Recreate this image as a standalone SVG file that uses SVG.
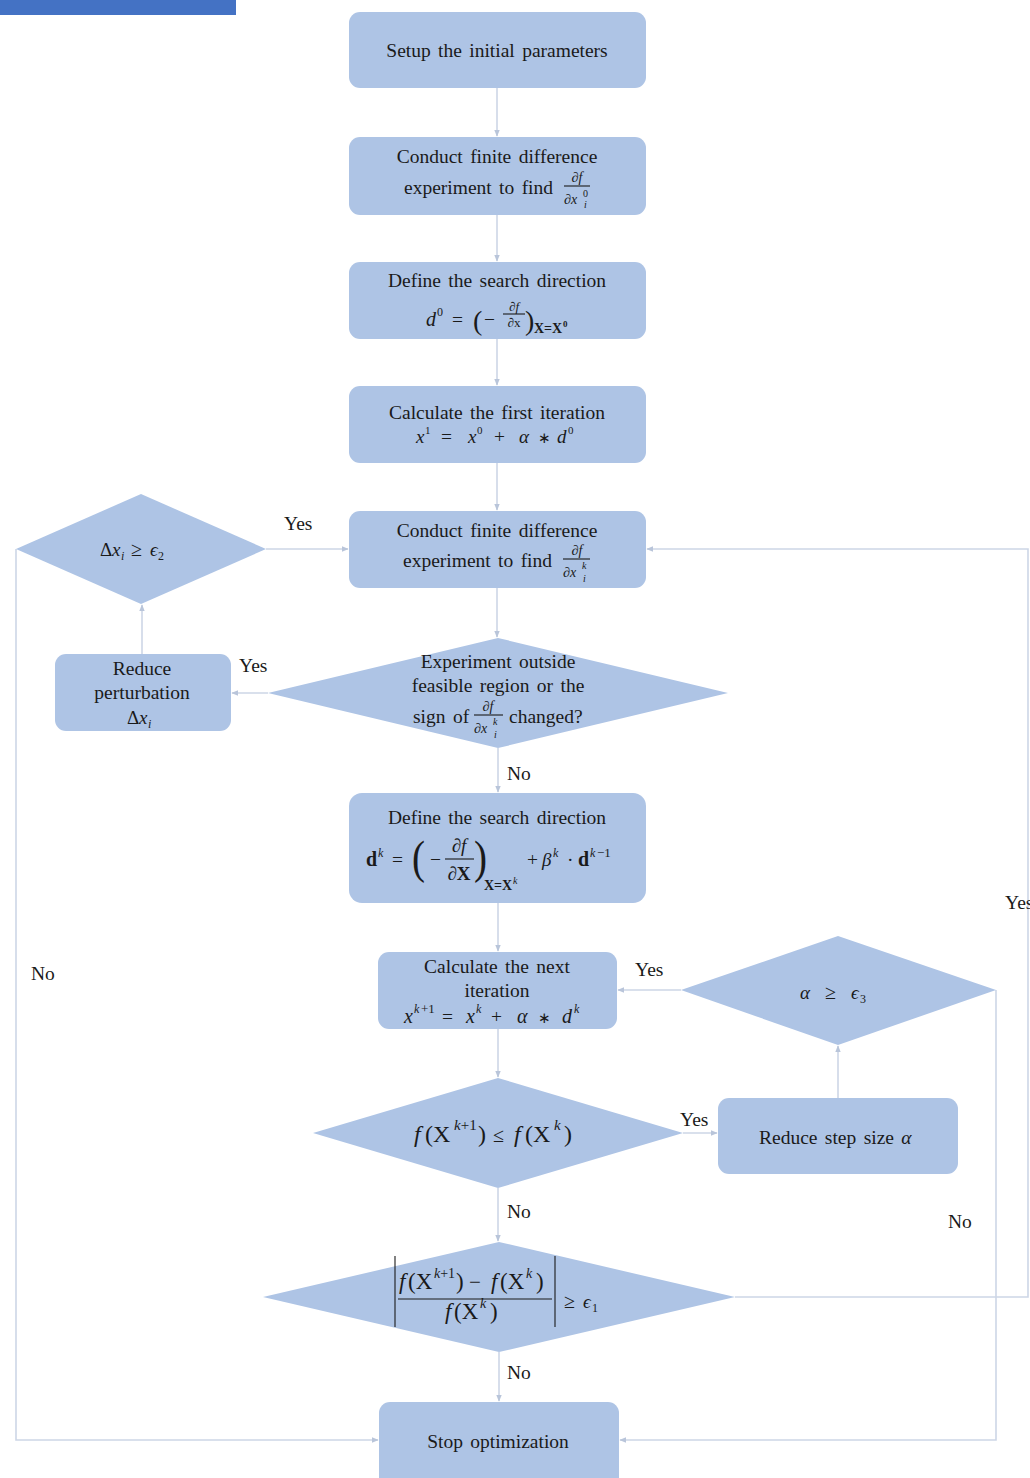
<svg xmlns="http://www.w3.org/2000/svg" width="1030" height="1478" viewBox="0 0 1030 1478">
<style>
svg{font-family:"Liberation Serif","Times New Roman",serif;font-size:19.5px;}
.box{fill:#aec4e5;}
.t{fill:#1a1a1a;word-spacing:2.5px;}
.m{font-style:italic;fill:#1a1a1a;}
.n{font-style:normal;}
.c{text-anchor:middle;}
.b{font-weight:bold;font-style:normal;}
.con{fill:none;stroke:#cdd6e6;stroke-width:1.6;}
.fl{stroke:#1a1a1a;stroke-width:1.1;}
</style>
<defs>
<marker id="ah" viewBox="0 0 10 10" refX="9" refY="5" markerWidth="7" markerHeight="7" orient="auto" markerUnits="userSpaceOnUse">
<path d="M0,1 L10,5 L0,9 z" fill="#b9c5da"/>
</marker>
</defs>
<rect x="0" y="0" width="236" height="15" fill="#4472c4"/>

<g id="connectors">
<path class="con" d="M497,88 V136" marker-end="url(#ah)"/>
<path class="con" d="M497,215 V261" marker-end="url(#ah)"/>
<path class="con" d="M497,339 V385" marker-end="url(#ah)"/>
<path class="con" d="M497,463 V510" marker-end="url(#ah)"/>
<path class="con" d="M497,588 V637" marker-end="url(#ah)"/>
<path class="con" d="M268,693 H232" marker-end="url(#ah)"/>
<path class="con" d="M142,654 V605" marker-end="url(#ah)"/>
<path class="con" d="M266,549 H348" marker-end="url(#ah)"/>
<path class="con" d="M16,549 V1440 H378" marker-end="url(#ah)"/>
<path class="con" d="M498,748 V792" marker-end="url(#ah)"/>
<path class="con" d="M498,903 V951" marker-end="url(#ah)"/>
<path class="con" d="M498,1029 V1077" marker-end="url(#ah)"/>
<path class="con" d="M683,1133 H717" marker-end="url(#ah)"/>
<path class="con" d="M838,1098 V1046" marker-end="url(#ah)"/>
<path class="con" d="M681,990 H618" marker-end="url(#ah)"/>
<path class="con" d="M996,990 V1440 H620" marker-end="url(#ah)"/>
<path class="con" d="M498,1188 V1241" marker-end="url(#ah)"/>
<path class="con" d="M735,1297 H1028 V549 H647" marker-end="url(#ah)"/>
<path class="con" d="M499,1352 V1401" marker-end="url(#ah)"/>
</g>

<g id="labels">
<text class="t" x="284" y="530">Yes</text>
<text class="t" x="239" y="672">Yes</text>
<text class="t" x="507" y="780">No</text>
<text class="t" x="635" y="976">Yes</text>
<text class="t" x="31" y="980">No</text>
<text class="t" x="1005" y="909">Yes</text>
<text class="t" x="680" y="1126">Yes</text>
<text class="t" x="507" y="1218">No</text>
<text class="t" x="948" y="1228">No</text>
<text class="t" x="507" y="1379">No</text>
</g>

<g id="n1">
<rect class="box" x="349" y="12" width="297" height="76" rx="11"/>
<text class="t c" x="497" y="57">Setup the initial parameters</text>
</g>

<g id="n2">
<rect class="box" x="349" y="137" width="297" height="78" rx="11"/>
<text class="t c" x="497" y="163">Conduct finite difference</text>
<text class="t" x="404" y="194">experiment to find</text>
<text class="m c" x="577" y="182" font-size="14">∂f</text>
<line class="fl" x1="564" y1="186" x2="590" y2="186"/>
<text class="m" x="564" y="204" font-size="14">∂x</text>
<text class="m n" x="583" y="197" font-size="10">0</text>
<text class="m" x="584" y="208" font-size="10">i</text>
</g>

<g id="n3">
<rect class="box" x="349" y="262" width="297" height="77" rx="11"/>
<text class="t c" x="497" y="287">Define the search direction</text>
<text class="m" x="426" y="326" font-size="20">d</text>
<text class="m n" x="437" y="316" font-size="12">0</text>
<text class="t" x="452" y="326">=</text>
<text class="t" x="473" y="330" font-size="28">(</text>
<text class="t" x="484" y="326">−</text>
<text class="m c" x="514" y="311" font-size="13">∂f</text>
<line class="fl" x1="503" y1="314" x2="525" y2="314"/>
<text class="m c" x="514" y="327" font-size="13">∂<tspan class="n">x</tspan></text>
<text class="t" x="525" y="330" font-size="28">)</text>
<text class="t b" x="534" y="333" font-size="14">X=X</text>
<text class="t b" x="563" y="327" font-size="9">0</text>
</g>

<g id="n4">
<rect class="box" x="349" y="386" width="297" height="77" rx="11"/>
<text class="t c" x="497" y="419">Calculate the first iteration</text>
<text class="m" x="416" y="443" font-size="19">x</text>
<text class="m n" x="425" y="434" font-size="11">1</text>
<text class="t" x="441" y="443">=</text>
<text class="m" x="468" y="443" font-size="19">x</text>
<text class="m n" x="477" y="434" font-size="11">0</text>
<text class="t" x="494" y="443">+</text>
<text class="m" x="519" y="443" font-size="19">α</text>
<text class="t" x="538" y="443" font-size="15">∗</text>
<text class="m" x="557" y="443" font-size="19">d</text>
<text class="m n" x="568" y="434" font-size="11">0</text>
</g>

<g id="n5">
<rect class="box" x="349" y="511" width="297" height="77" rx="11"/>
<text class="t c" x="497" y="537">Conduct finite difference</text>
<text class="t" x="403" y="567">experiment to find</text>
<text class="m c" x="577" y="555" font-size="14">∂f</text>
<line class="fl" x1="563" y1="559" x2="590" y2="559"/>
<text class="m" x="563" y="577" font-size="14">∂x</text>
<text class="m" x="582" y="569" font-size="10">k</text>
<text class="m" x="583" y="582" font-size="10">i</text>
</g>

<g id="n6">
<polygon class="box" points="498,638 728,693 498,748 268,693"/>
<text class="t c" x="498" y="668">Experiment outside</text>
<text class="t c" x="498" y="692">feasible region or the</text>
<text class="t" x="413" y="723">sign of</text>
<text class="m c" x="488" y="711" font-size="14">∂f</text>
<line class="fl" x1="474" y1="715" x2="503" y2="715"/>
<text class="m" x="474" y="733" font-size="14">∂x</text>
<text class="m" x="493" y="725" font-size="10">k</text>
<text class="m" x="494" y="738" font-size="10">i</text>
<text class="t" x="509" y="723">changed?</text>
</g>

<g id="n7">
<rect class="box" x="55" y="654" width="176" height="77" rx="11"/>
<text class="t c" x="142" y="675">Reduce</text>
<text class="t c" x="142" y="699">perturbation</text>
<text class="m n" x="127" y="724" font-size="19">Δ</text>
<text class="m" x="139" y="724" font-size="19">x</text>
<text class="m" x="148" y="728" font-size="12">i</text>
</g>

<g id="n8">
<polygon class="box" points="141,494 266,549 141,604 16,549"/>
<text class="m n" x="100" y="556" font-size="19">Δ</text>
<text class="m" x="112" y="556" font-size="19">x</text>
<text class="m" x="121" y="560" font-size="12">i</text>
<text class="t" x="131" y="556" font-size="20">≥</text>
<text class="m" x="150" y="556" font-size="19">ϵ</text>
<text class="m n" x="158" y="560" font-size="12">2</text>
</g>

<g id="n9">
<rect class="box" x="349" y="793" width="297" height="110" rx="13"/>
<text class="t c" x="497" y="824">Define the search direction</text>
<text class="t b" x="366" y="866" font-size="20">d</text>
<text class="m" x="378" y="857" font-size="12">k</text>
<text class="t" x="392" y="866">=</text>
<text class="t" x="412" y="873" font-size="46" transform="translate(412,0) scale(0.85,1) translate(-412,0)">(</text>
<text class="t" x="430" y="866">−</text>
<text class="m c" x="459" y="852" font-size="19">∂f</text>
<line class="fl" x1="445" y1="859" x2="474" y2="859"/>
<text class="m c" x="459" y="880" font-size="19">∂<tspan class="b">X</tspan></text>
<text class="t" x="474" y="873" font-size="46" transform="translate(474,0) scale(0.85,1) translate(-474,0)">)</text>
<text class="t b" x="484" y="890" font-size="14">X=X</text>
<text class="m" x="513" y="884" font-size="10">k</text>
<text class="t" x="527" y="866">+</text>
<text class="m" x="542" y="866" font-size="19">β</text>
<text class="m" x="553" y="857" font-size="12">k</text>
<text class="t" x="567" y="866">·</text>
<text class="t b" x="578" y="866" font-size="20">d</text>
<text class="m" x="590" y="857" font-size="12">k</text><text class="t" x="597" y="857" font-size="13">−1</text>
</g>

<g id="n10">
<rect class="box" x="378" y="952" width="239" height="77" rx="11"/>
<text class="t c" x="497" y="973">Calculate the next</text>
<text class="t c" x="497" y="997">iteration</text>
<text class="m" x="404" y="1023" font-size="20">x</text>
<text class="m" x="414" y="1013" font-size="12">k</text><text class="t" x="421" y="1013" font-size="13">+1</text>
<text class="t" x="442" y="1023">=</text>
<text class="m" x="466" y="1023" font-size="20">x</text>
<text class="m" x="476" y="1013" font-size="12">k</text>
<text class="t" x="491" y="1023">+</text>
<text class="m" x="517" y="1023" font-size="20">α</text>
<text class="t" x="538" y="1023" font-size="15">∗</text>
<text class="m" x="562" y="1023" font-size="20">d</text>
<text class="m" x="574" y="1013" font-size="12">k</text>
</g>

<g id="n11">
<polygon class="box" points="838,936 996,990 838,1045 681,990"/>
<text class="m" x="800" y="999" font-size="19">α</text>
<text class="t" x="825" y="999" font-size="20">≥</text>
<text class="m" x="851" y="999" font-size="19">ϵ</text>
<text class="m n" x="860" y="1003" font-size="12">3</text>
</g>

<g id="n12">
<rect class="box" x="718" y="1098" width="240" height="76" rx="11"/>
<text class="t" x="759" y="1144">Reduce step size <tspan class="m">α</tspan></text>
</g>

<g id="n13">
<polygon class="box" points="498,1078 683,1133 498,1188 313,1133"/>
<text class="m" x="414" y="1142" font-size="24">f</text>
<text class="t" x="425" y="1142" font-size="24">(X</text>
<text class="m" x="454" y="1130" font-size="15">k<tspan class="n">+1</tspan></text>
<text class="t" x="478" y="1142" font-size="24">)</text>
<text class="t" x="493" y="1142" font-size="20">≤</text>
<text class="m" x="514" y="1142" font-size="24">f</text>
<text class="t" x="525" y="1142" font-size="24">(X</text>
<text class="m" x="554" y="1130" font-size="15">k</text>
<text class="t" x="564" y="1142" font-size="24">)</text>
</g>

<g id="n14">
<polygon class="box" points="499,1242 735,1297 499,1352 263,1297"/>
<line class="fl" x1="395" y1="1256" x2="395" y2="1327" stroke-width="2"/>
<line class="fl" x1="555" y1="1256" x2="555" y2="1327" stroke-width="2"/>
<text class="m" x="399" y="1289" font-size="23">f</text>
<text class="t" x="408" y="1289" font-size="23">(X</text>
<text class="m" x="434" y="1278" font-size="14">k<tspan class="n">+1</tspan></text>
<text class="t" x="456" y="1289" font-size="23">)</text>
<text class="t" x="469" y="1289" font-size="21">−</text>
<text class="m" x="491" y="1289" font-size="23">f</text>
<text class="t" x="500" y="1289" font-size="23">(X</text>
<text class="m" x="526" y="1278" font-size="14">k</text>
<text class="t" x="536" y="1289" font-size="23">)</text>
<line class="fl" x1="398" y1="1299" x2="552" y2="1299"/>
<text class="m" x="445" y="1319" font-size="23">f</text>
<text class="t" x="454" y="1319" font-size="23">(X</text>
<text class="m" x="480" y="1308" font-size="14">k</text>
<text class="t" x="490" y="1319" font-size="23">)</text>
<text class="t" x="564" y="1308" font-size="20">≥</text>
<text class="m" x="583" y="1308" font-size="19">ϵ</text>
<text class="m n" x="592" y="1312" font-size="12">1</text>
</g>

<g id="n15">
<rect class="box" x="379" y="1402" width="240" height="86" rx="11"/>
<text class="t c" x="498" y="1448">Stop optimization</text>
</g>
</svg>
